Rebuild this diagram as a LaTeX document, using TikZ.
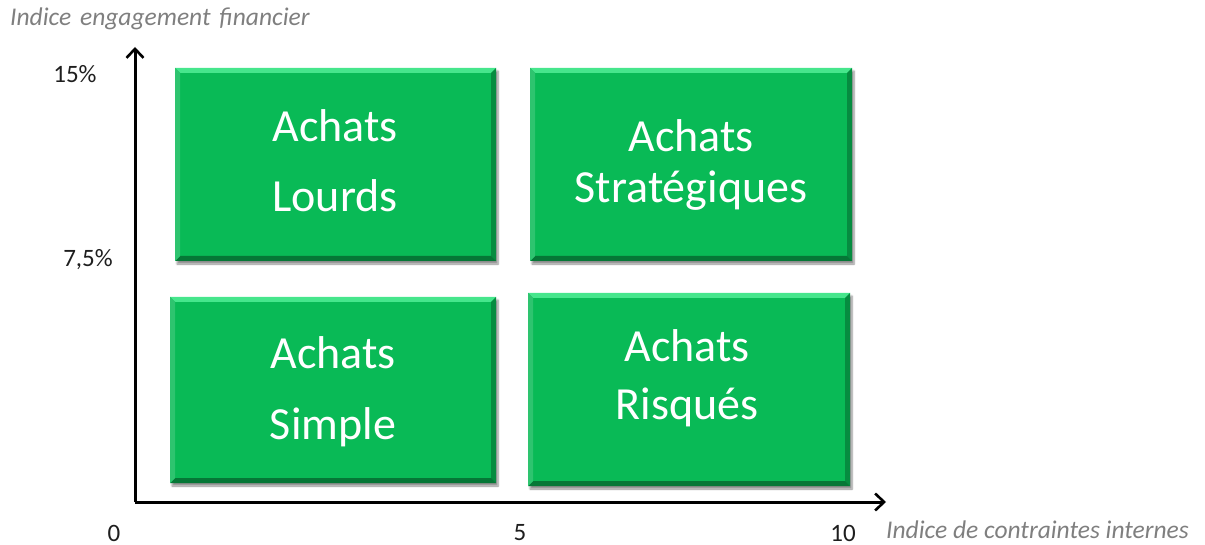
\documentclass[tikz,border=0pt]{standalone}
\usepackage{fontspec}
\setmainfont{Carlito}
\usetikzlibrary{arrows.meta,shadows.blur,calc}
\definecolor{boxgreen}{RGB}{9,186,86}
\definecolor{boxlight}{RGB}{70,230,140}
\definecolor{boxdark}{RGB}{6,140,64}
\definecolor{axisgray}{RGB}{127,127,127}
\definecolor{numcol}{RGB}{30,30,30}
\tikzset{
  quad/.style={draw=none, fill=boxgreen, inner sep=0pt,
    blur shadow={shadow xshift=2pt, shadow yshift=-3pt, shadow blur steps=6, shadow opacity=45}},
  quadtext/.style={anchor=base, text=white, font=\fontsize{46}{55}\selectfont, inner sep=0pt},
  axislabel/.style={text=axisgray, font=\itshape\fontsize{25.5}{30}\selectfont, inner sep=0pt},
  numlabel/.style={text=numcol, font=\fontsize{25}{30}\selectfont, inner sep=0pt},
  axisline/.style={line width=3pt, -{Straight Barb[length=9pt,width=17pt,line width=2.6pt]}}
}
\newcommand{\bevelbox}[5]{%
  % #1 name, #2 x1, #3 y1 (top), #4 x2, #5 y2 (bottom)
  \path[quad] (#2,#3) rectangle (#4,#5);
  \fill[boxlight] (#2,#3) -- (#4,#3) -- (#4-5,#3+5) -- (#2+5,#3+5) -- cycle;
  \fill[boxdark] (#4,#3) -- (#4,#5) -- (#4-5,#5-5) -- (#4-5,#3+5) -- cycle;
  \fill[boxdark!85!black] (#2,#5) -- (#4,#5) -- (#4-5,#5-5) -- (#2+5,#5-5) -- cycle;
  \fill[boxgreen!85!white] (#2,#3) -- (#2,#5) -- (#2+5,#5-5) -- (#2+5,#3+5) -- cycle;
  \coordinate (#1) at ({(#2+#4)/2},{(#3+#5)/2});
}
\begin{document}
\begin{tikzpicture}[x=1pt,y=-1pt]
\useasboundingbox (0,0) rectangle (1205,545);

% boxes
\bevelbox{tl}{175}{68}{496}{261}
\bevelbox{tr}{530}{68}{852}{261}
\bevelbox{bl}{170}{297}{496}{483}
\bevelbox{br}{528}{293}{850}{486}

\node[quadtext] (tl1) at (335,142) {Achats};
\node[quadtext] (tl2) at (335,212) {Lourds};
\node[quadtext] (tr1) at (691,152) {Achats};
\node[quadtext] (tr2) at (691,203) {Stratégiques};
\node[quadtext] (bl1) at (333,368) {Achats};
\node[quadtext] (bl2) at (333,439) {Simple};
\node[quadtext] (br1) at (687,362) {Achats};
\node[quadtext] (br2) at (687,419) {Risqués};

% axes
\coordinate (O) at (135,502);
\coordinate (Y) at (135,47);
\coordinate (X) at (886,502);
\draw[axisline] (O) -- (Y);
\draw[axisline] (O) -- (X);

% axis titles
\node[axislabel, anchor=west] (ytitle) at (10,19) {Indice\hspace{3pt} engagement\hspace{3pt} financier};
\node[axislabel, anchor=west] (xtitle) at (886,530) {Indice de contraintes internes};

% ticks labels
\node[numlabel] (y15) at (75,74) {15\%};
\node[numlabel] (y75) at (88,260) {7,5\%};
\node[numlabel] (x0) at (114,533) {0};
\node[numlabel] (x5) at (520,533) {5};
\node[numlabel] (x10) at (843,533) {10};
\end{tikzpicture}
\end{document}
